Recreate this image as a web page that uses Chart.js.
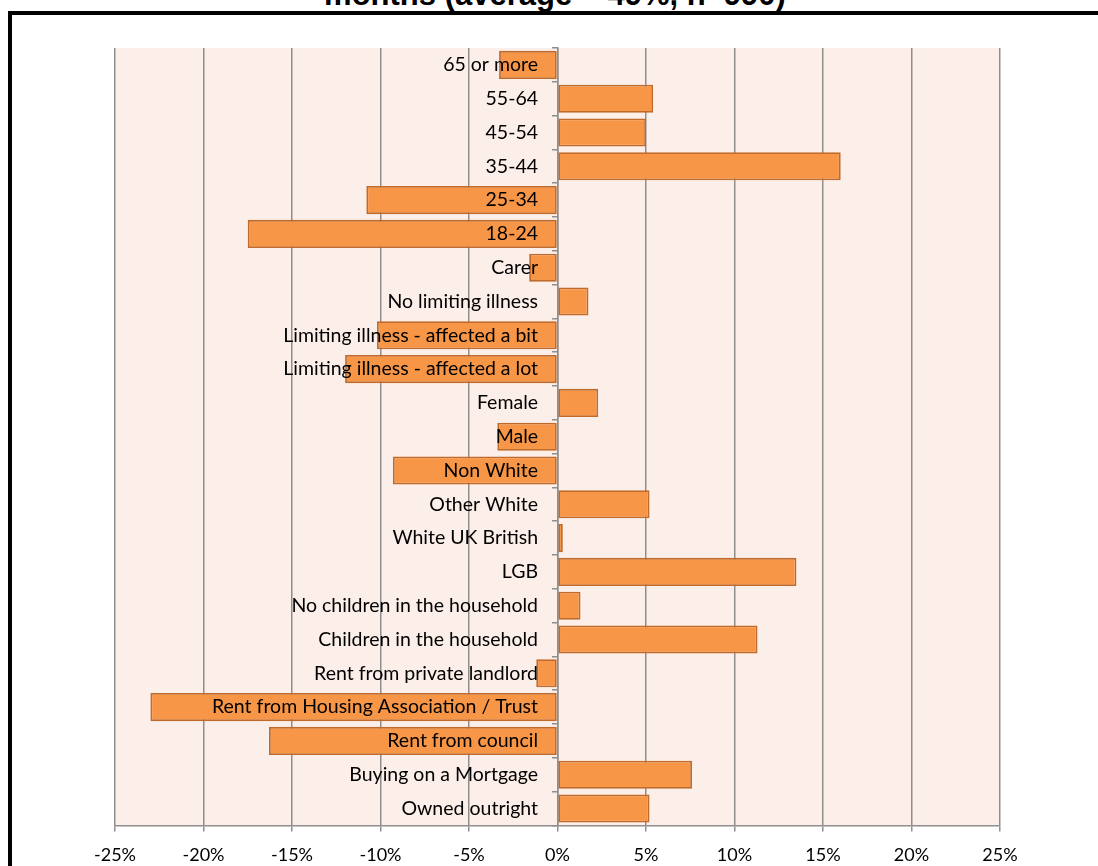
<!DOCTYPE html>
<html>
<head>
<meta charset="utf-8">
<script src="https://cdn.jsdelivr.net/npm/chart.js@4"></script>
<style>
  html, body { margin: 0; padding: 0; background: #fff; overflow: hidden; }
  #wrap { position: relative; width: 1098px; height: 866px; }
  #title {
    position: absolute; left: 0; width: 1110px; top: -23px; text-align: center;
    font: bold 31px "Liberation Sans", Arial, sans-serif; color: #000; white-space: nowrap;
  }
  #frame {
    position: absolute; left: 8px; top: 11px; width: 1200px; height: 1000px;
    border-left: 4px solid #000; border-top: 4px solid #000; box-sizing: border-box;
  }
  #chart { position: absolute; left: 0; top: 0; }
</style>
</head>
<body>
<div id="wrap">
  <div id="title">months (average = 49%, n=990)</div>
  <div id="frame"></div>
  <canvas id="chart" width="1098" height="866"></canvas>
</div>
<script>
// categories, top to bottom
const categories = [
  '65 or more', '55-64', '45-54', '35-44', '25-34', '18-24',
  'Carer', 'No limiting illness', 'Limiting illness - affected a bit',
  'Limiting illness - affected a lot', 'Female', 'Male', 'Non White',
  'Other White', 'White UK British', 'LGB', 'No children in the household',
  'Children in the household', 'Rent from private landlord',
  'Rent from Housing Association / Trust', 'Rent from council',
  'Buying on a Mortgage', 'Owned outright'
];

// difference from average, in %
const values = [
  -3.3, 5.4, 5.0, 16.0, -10.8, -17.5,
  -1.6, 1.75, -10.2,
  -12.0, 2.3, -3.4, -9.3,
  5.2, 0.3, 13.5, 1.3,
  11.3, -1.2,
  -23.0, -16.3,
  7.6, 5.2
];

const xMin = -25;
const xMax = 25;
const xStep = 5;

const gridGrey = '#8E8E8E';
const catFont = { family: 'Lato, "Open Sans", sans-serif', size: 19.5 };
const tickFont = { family: 'Lato, "Open Sans", sans-serif', size: 18 };

// pink plot background
const plotBg = {
  id: 'plotBg',
  beforeDraw(chart) {
    const { ctx, chartArea: a } = chart;
    ctx.save();
    ctx.fillStyle = '#FCEEE9';
    ctx.fillRect(a.left, a.top, a.right - a.left, a.bottom - a.top);
    ctx.restore();
  }
};

new Chart(document.getElementById('chart').getContext('2d'), {
  type: 'bar',
  data: {
    labels: categories,
    datasets: [{
      data: values,
      backgroundColor: '#F79646',
      borderColor: '#C06A2C',
      borderWidth: 1.8,
      borderSkipped: false,
      barPercentage: 0.83,
      categoryPercentage: 1
    }]
  },
  options: {
    indexAxis: 'y',
    responsive: false,
    animation: false,
    layout: { padding: { left: 115, right: 98, top: 48, bottom: -13 } },
    plugins: { legend: { display: false }, tooltip: { enabled: false } },
    scales: {
      x: {
        min: xMin,
        max: xMax,
        ticks: {
          stepSize: xStep,
          color: '#000',
          font: tickFont,
          padding: 13,
          callback: v => v + '%'
        },
        grid: { color: gridGrey, lineWidth: 1.5, tickLength: 6 },
        border: { color: gridGrey, width: 1.5 }
      },
      // category labels, sitting just left of the zero line, over the bars
      y: {
        position: { x: -1.1 },
        ticks: { color: '#000', font: catFont, autoSkip: false, z: 2 },
        grid: { display: false },
        border: { display: false }
      },
      // the zero axis line with its tick marks
      y2: {
        type: 'category',
        position: { x: 0 },
        offset: true,
        ticks: { display: false },
        grid: { drawOnChartArea: false, color: gridGrey, lineWidth: 1.5, tickLength: 5, offset: true, z: 1 },
        border: { color: gridGrey, width: 1.5, z: 1 }
      }
    }
  },
  plugins: [plotBg]
});
</script>
</body>
</html>
